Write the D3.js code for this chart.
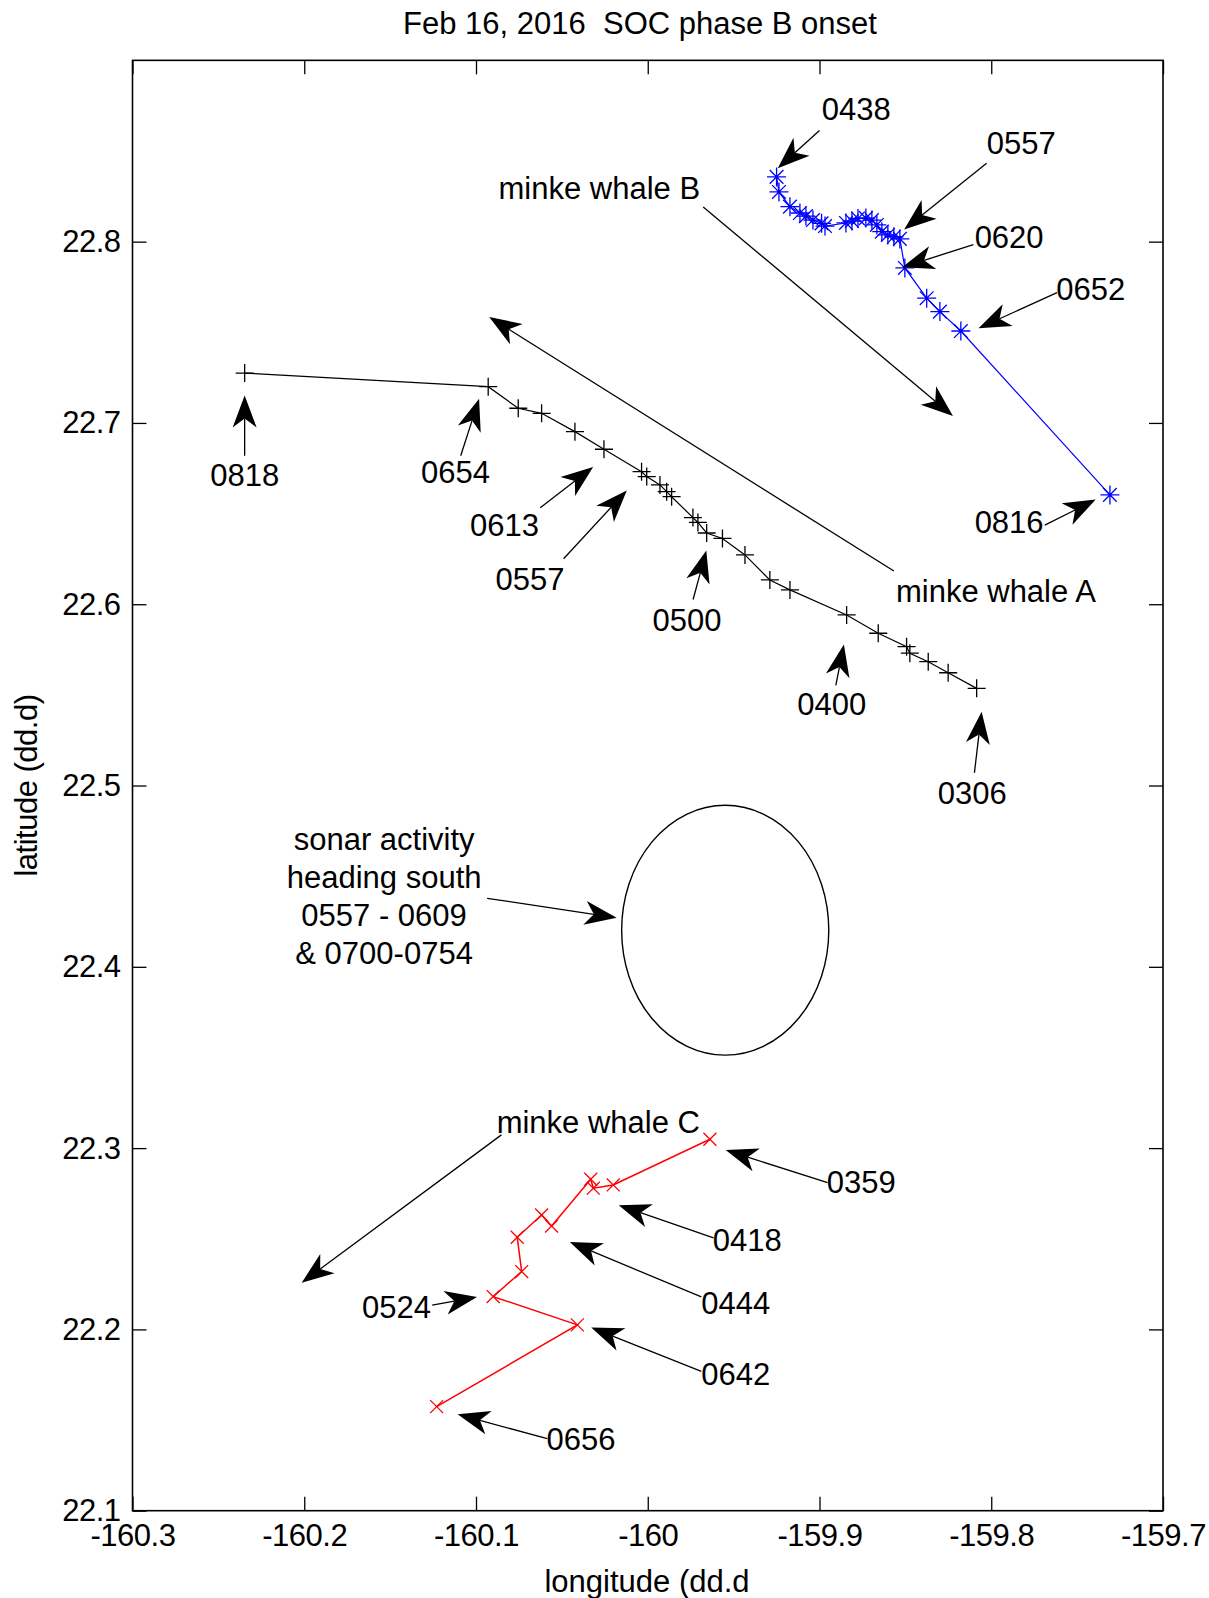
<!DOCTYPE html>
<html><head><meta charset="utf-8">
<script src="https://cdn.jsdelivr.net/npm/d3@7"></script>
<style>
html,body{margin:0;padding:0;background:#fff;}
text{font-family:"Liberation Sans",Arial,sans-serif;fill:#000;white-space:pre;}
</style></head>
<body><svg id="chart" width="1209" height="1598"></svg>
<script>
// ---------- data ----------
const titleText = "Feb 16, 2016  SOC phase B onset";
const xLabelText = "longitude (dd.d";
const yLabelText = "latitude (dd.d)";
const xTicks = [-160.3, -160.2, -160.1, -160, -159.9, -159.8, -159.7];
const yTicks = [22.1, 22.2, 22.3, 22.4, 22.5, 22.6, 22.7, 22.8];

// minke whale A (black +), 0306 -> 0818
const lonA = [-159.8085,-159.8251,-159.8367,-159.8474,-159.8493,-159.8658,-159.8842,-159.9172,-159.9289,-159.9434,-159.9565,-159.9657,-159.9708,-159.9737,-159.9861,-159.9890,-159.9929,-160.0006,-160.0036,-160.0255,-160.0424,-160.0618,-160.0754,-160.0929,-160.2347];
const latA = [22.5536,22.5622,22.5683,22.5730,22.5766,22.5840,22.5941,22.6079,22.6134,22.6272,22.6363,22.6393,22.6451,22.6478,22.6593,22.6621,22.6658,22.6704,22.6731,22.6855,22.6952,22.7053,22.7081,22.7200,22.7275];

// minke whale B (blue *), 0438 -> 0816
const lonB = [-159.9250,-159.9236,-159.9172,-159.9114,-159.9079,-159.9038,-159.8988,-159.8968,-159.8846,-159.8811,-159.8776,-159.8730,-159.8695,-159.8666,-159.8637,-159.8602,-159.8567,-159.8532,-159.8503,-159.8376,-159.8299,-159.8177,-159.7309];
const latB = [22.8357,22.8274,22.8193,22.8158,22.8141,22.8119,22.8101,22.8086,22.8103,22.8114,22.8128,22.8130,22.8119,22.8092,22.8055,22.8037,22.8027,22.8015,22.7855,22.7688,22.7614,22.7507,22.6603];

// minke whale C (red x), 0359 -> 0656
const lonC = [-159.9638,-160.0201,-160.0317,-160.0332,-160.0560,-160.0618,-160.0760,-160.0734,-160.0900,-160.0410,-160.1229];
const latC = [22.3049,22.2797,22.2779,22.2828,22.2570,22.2631,22.2508,22.2319,22.2181,22.2025,22.1574];

// sonar activity ellipse (centre lon, lat; radii in degrees)
const ellipseCenter = [-159.9549, 22.4202];
const ellipseRadii = [0.0603, 0.0689];

// annotations: label, label position, arrow tail, arrow head (lon/lat)
const annLabels = ["0438","0557","0620","0652","minke whale B","0816","minke whale A","0818","0654","0613","0557","0500","0400","0306","minke whale C","0359","0418","0444","0524","0642","0656"];
const annText = [[-159.8786,22.8731],[-159.7825,22.8540],[-159.7896,22.8023],[-159.7421,22.7736],[-160.0282,22.8292],[-159.7896,22.6453],[-159.7973,22.6071],[-160.2347,22.6712],[-160.1119,22.6729],[-160.0834,22.6436],[-160.0685,22.6138],[-159.9772,22.5908],[-159.8929,22.5447],[-159.8110,22.4957],[-160.0288,22.3141],[-159.8757,22.2809],[-159.9421,22.2488],[-159.9487,22.2145],[-160.1463,22.2123],[-159.9487,22.1751],[-160.0389,22.1392]];
const annTail = [[-159.9000,22.8613],[-159.8027,22.8433],[-159.8104,22.7983],[-159.7617,22.7719],[-159.9677,22.8191],[-159.7688,22.6436],[-159.8567,22.6183],[-160.2347,22.6819],[-160.1089,22.6819],[-160.0626,22.6532],[-160.0490,22.6251],[-159.9736,22.6026],[-159.8905,22.5553],[-159.8098,22.5070],[-160.0852,22.3073],[-159.8953,22.2809],[-159.9617,22.2505],[-159.9688,22.2179],[-160.1255,22.2134],[-159.9688,22.1768],[-160.0585,22.1397]];
const annHead = [[-159.9243,22.8405],[-159.8507,22.8067],[-159.8519,22.7859],[-159.8074,22.7522],[-159.8223,22.7038],[-159.7392,22.6577],[-160.0923,22.7584],[-160.2347,22.7151],[-160.0982,22.7134],[-160.0318,22.6757],[-160.0122,22.6628],[-159.9659,22.6296],[-159.8858,22.5778],[-159.8056,22.5407],[-160.2015,22.2258],[-159.9546,22.2989],[-160.0169,22.2685],[-160.0454,22.2482],[-160.0994,22.2179],[-160.0329,22.2010],[-160.1107,22.1532]];

const sonarLines = ["sonar activity","heading south","0557 - 0609","& 0700-0754"];
const sonarTextPos = [-160.1535, 22.4704];
const sonarTail = [-160.0935, 22.4378];
const sonarHead = [-160.0181, 22.4271];

// ---------- drawing ----------
const svg = d3.select("#chart");
const L = 132.5, R = 1163, T = 60.35, B = 1510.7;
const x = d3.scaleLinear().domain([-160.3, -159.7]).range([L, R]);
const y = d3.scaleLinear().domain([22.1, 22.9]).range([B, T]);
const FS = 31;
const fmt = d => String(+(+d).toFixed(1));

// axes
const gB = svg.append("g").attr("transform", `translate(0,${B})`)
  .call(d3.axisBottom(x).tickValues(xTicks).tickSize(-14).tickPadding(13).tickFormat(fmt));
const gT = svg.append("g").attr("transform", `translate(0,${T})`)
  .call(d3.axisTop(x).tickValues(xTicks).tickSize(-14).tickFormat(""));
const gL = svg.append("g").attr("transform", `translate(${L},0)`)
  .call(d3.axisLeft(y).tickValues(yTicks).tickSize(-14).tickPadding(12).tickFormat(fmt));
const gR = svg.append("g").attr("transform", `translate(${R},0)`)
  .call(d3.axisRight(y).tickValues(yTicks).tickSize(-14).tickFormat(""));
[gB, gT, gL, gR].forEach(g => {
  g.select(".domain").remove();
  g.selectAll(".tick line").attr("stroke", "#000").attr("stroke-width", 1.3);
  g.selectAll(".tick text").attr("font-size", FS).attr("font-family", "Liberation Sans, Arial, sans-serif")
    .attr("fill", "#000").attr("letter-spacing", -0.5);
});
svg.append("rect").attr("x", L).attr("y", T).attr("width", R - L).attr("height", B - T)
  .attr("fill", "none").attr("stroke", "#000").attr("stroke-width", 1.6);

// titles
svg.append("text").attr("x", 640).attr("y", 23).attr("text-anchor", "middle")
  .attr("dominant-baseline", "central").attr("font-size", FS).text(titleText);
svg.append("text").attr("x", 647).attr("y", 1581).attr("text-anchor", "middle")
  .attr("dominant-baseline", "central").attr("font-size", FS).text(xLabelText);
svg.append("text").attr("transform", `translate(26,${(T + B) / 2}) rotate(-90)`).attr("text-anchor", "middle")
  .attr("dominant-baseline", "central").attr("font-size", FS).attr("letter-spacing", -0.5).text(yLabelText);

// tracks
const line = d3.line().x(d => x(d[0])).y(d => y(d[1]));
function track(lons, lats, color, width, marker, ms) {
  const pts = lons.map((v, i) => [v, lats[i]]);
  svg.append("path").attr("d", line(pts)).attr("fill", "none").attr("stroke", color).attr("stroke-width", width);
  const mk = (px, py) => {
    const h = ms, d = ms * 0.72;
    const plus = `M${px - h},${py}H${px + h}M${px},${py - h}V${py + h}`;
    const cross = `M${px - d},${py - d}L${px + d},${py + d}M${px - d},${py + d}L${px + d},${py - d}`;
    return marker === "+" ? plus : marker === "x" ? cross : plus + cross;
  };
  svg.append("g").selectAll("path").data(pts).join("path")
    .attr("d", d => mk(x(d[0]), y(d[1]))).attr("fill", "none").attr("stroke", color).attr("stroke-width", 1.3);
}
track(lonA, latA, "#000", 1.2, "+", 9);
track(lonB, latB, "#0000ff", 1.2, "*", 9.5);
track(lonC, latC, "#ff0000", 1.5, "x", 9);

// ellipse
svg.append("ellipse").attr("cx", x(ellipseCenter[0])).attr("cy", y(ellipseCenter[1]))
  .attr("rx", x(ellipseCenter[0] + ellipseRadii[0]) - x(ellipseCenter[0]))
  .attr("ry", y(ellipseCenter[1]) - y(ellipseCenter[1] + ellipseRadii[1]))
  .attr("fill", "none").attr("stroke", "#000").attr("stroke-width", 1.4);

// arrows
function arrow(tail, head) {
  const x1 = x(tail[0]), y1 = y(tail[1]), x2 = x(head[0]), y2 = y(head[1]);
  const a = Math.atan2(y2 - y1, x2 - x1);
  const Lh = 32, Wh = 24, notch = 0.72;
  const ca = Math.cos(a), sa = Math.sin(a);
  const p = (u, v) => [x2 + u * ca - v * sa, y2 + u * sa + v * ca];
  const pts = [p(0, 0), p(-Lh, Wh / 2), p(-Lh * notch, 0), p(-Lh, -Wh / 2)];
  const e = p(-Lh * notch, 0);
  svg.append("line").attr("x1", x1).attr("y1", y1).attr("x2", e[0]).attr("y2", e[1])
    .attr("stroke", "#000").attr("stroke-width", 1.3);
  svg.append("path").attr("d", "M" + pts.map(q => q.join(",")).join("L") + "Z").attr("fill", "#000");
}
annLabels.forEach((t, i) => {
  arrow(annTail[i], annHead[i]);
  svg.append("text").attr("x", x(annText[i][0])).attr("y", y(annText[i][1]))
    .attr("text-anchor", "middle").attr("dominant-baseline", "central")
    .attr("font-size", FS).text(t);
});
arrow(sonarTail, sonarHead);
const lineStep = 0.0211;
sonarLines.forEach((t, i) => {
  svg.append("text").attr("x", x(sonarTextPos[0])).attr("y", y(sonarTextPos[1] - i * lineStep))
    .attr("text-anchor", "middle").attr("dominant-baseline", "central")
    .attr("font-size", FS).text(t);
});
</script></body></html>
